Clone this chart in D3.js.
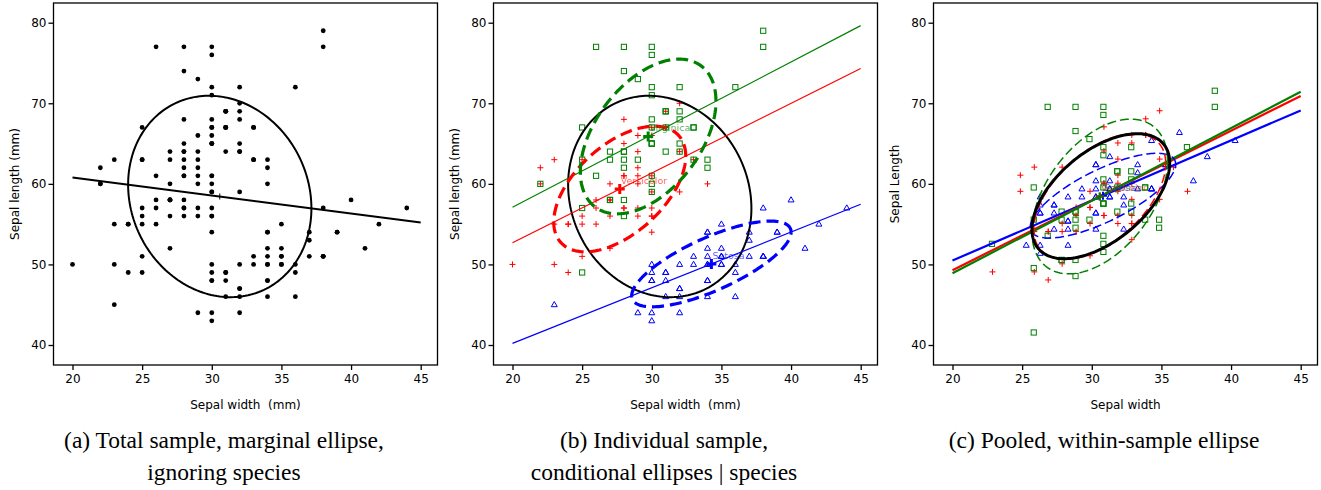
<!DOCTYPE html>
<html><head><meta charset="utf-8">
<script src="https://cdn.jsdelivr.net/npm/d3@7"></script>
<style>body{margin:0;background:#fff}svg{display:block}</style>
</head><body><svg id="chart" width="1321" height="490"></svg>
<script>
// ---- data (iris, mm) ----
const speciesNames = ["Setosa", "Versicolor", "Virginica"];
const speciesColors = ["#0000ff", "#ff0000", "#008000"];
const setosaWidth = [35,30,32,31,36,39,34,34,29,31,37,34,30,30,40,44,39,35,38,38,34,37,36,33,34,30,34,35,34,32,31,34,41,42,31,32,35,36,30,34,35,23,32,35,38,30,38,32,37,33];
const setosaLength = [51,49,47,46,50,54,46,50,44,49,54,48,48,43,58,57,54,51,57,51,54,51,46,51,48,50,50,52,52,47,48,54,52,55,49,50,55,49,44,51,50,45,44,50,51,48,51,46,53,50];
const versicolorWidth = [32,32,31,23,28,28,33,24,29,27,20,30,22,29,29,31,30,27,22,25,32,28,25,28,29,30,28,30,29,26,24,24,27,27,30,34,31,23,30,25,26,30,26,23,27,30,29,29,25,28];
const versicolorLength = [70,64,69,55,65,57,63,49,66,52,50,59,60,61,56,67,56,58,62,56,59,61,63,61,64,66,68,67,60,57,55,55,58,60,54,60,67,63,56,55,55,61,58,50,56,57,57,62,51,57];
const virginicaWidth = [33,27,30,29,30,30,25,29,25,36,32,27,30,25,28,32,30,38,26,22,32,28,28,27,33,32,28,30,28,30,28,38,28,28,26,30,34,31,30,31,31,31,27,32,33,30,25,30,34,30];
const virginicaLength = [63,58,71,63,65,76,49,73,67,72,65,64,68,57,58,64,65,77,77,60,69,56,77,63,67,72,62,61,64,72,74,79,64,63,61,77,63,64,60,69,67,69,58,68,67,67,63,65,62,59];
const xTicks = [20, 25, 30, 35, 40, 45];
const yTicks = [40, 50, 60, 70, 80];
const xLimits = [20, 45];
const yLimits = [40, 80];
const xTitles = ["Sepal width  (mm)", "Sepal width  (mm)", "Sepal width"];
const yTitles = ["Sepal length (mm)", "Sepal length (mm)", "Sepal Length"];
const captions = [
  ["(a) Total sample, marginal ellipse,", "ignoring species"],
  ["(b) Individual sample,", "conditional ellipses | species"],
  ["(c) Pooled, within-sample ellipse"]
];
const ellipseLevel = 0.68;

// ---- helpers ----
const groups = [
  {w: setosaWidth, l: setosaLength},
  {w: versicolorWidth, l: versicolorLength},
  {w: virginicaWidth, l: virginicaLength}
];
function stats(xs, ys) {
  const n = xs.length, mx = d3.mean(xs), my = d3.mean(ys);
  let sxx = 0, syy = 0, sxy = 0;
  for (let i = 0; i < n; i++) { const dx = xs[i]-mx, dy = ys[i]-my; sxx += dx*dx; syy += dy*dy; sxy += dx*dy; }
  return {mx, my, sxx: sxx/(n-1), syy: syy/(n-1), sxy: sxy/(n-1), n};
}
const cRad = Math.sqrt(-2 * Math.log(1 - ellipseLevel));
function ellipse(s) {
  const L11 = Math.sqrt(s.sxx), L21 = s.sxy / L11, L22 = Math.sqrt(s.syy - L21*L21);
  return d3.range(0, 201).map(i => {
    const t = 2*Math.PI*i/200, c = Math.cos(t), sn = Math.sin(t);
    return [s.mx + cRad*L11*c, s.my + cRad*(L21*c + L22*sn)];
  });
}
function regLine(s) {
  const b = s.sxy / s.sxx;
  const a = s.my - b * s.mx;
  return [[xLimits[0], a + b*xLimits[0]], [xLimits[1], a + b*xLimits[1]]];
}
const allW = [].concat(...groups.map(g => g.w));
const allL = [].concat(...groups.map(g => g.l));
const totalStats = stats(allW, allL);
const groupStats = groups.map(g => stats(g.w, g.l));

const svg = d3.select("#chart");
const panelOffsets = [0, 440, 880];
const frame = {left: 53.5, right: 437.5, top: 3, bottom: 365};

function makePanel(k) {
  const ox = panelOffsets[k];
  const g = svg.append("g").attr("transform", `translate(${ox},0)`);
  const x = d3.scaleLinear().domain(xLimits).range([72.5, 420.7]);
  const y = d3.scaleLinear().domain(yLimits).range([345, 22.7]);
  const clipId = "clip" + k;
  g.append("clipPath").attr("id", clipId).append("rect")
    .attr("x", frame.left).attr("y", frame.top)
    .attr("width", frame.right - frame.left).attr("height", frame.bottom - frame.top);
  const xa = g.append("g").attr("transform", `translate(0,${frame.bottom})`)
    .call(d3.axisBottom(x).tickValues(xTicks).tickSize(5).tickPadding(4));
  const ya = g.append("g").attr("transform", `translate(${frame.left},0)`)
    .call(d3.axisLeft(y).tickValues(yTicks).tickSize(5).tickPadding(2));
  [xa, ya].forEach(a => {
    a.select(".domain").remove();
    a.selectAll("text").attr("font-family", "DejaVu Sans").attr("font-size", 12).attr("fill", "#000");
    a.selectAll("line").attr("stroke", "#000").attr("stroke-width", 1.3);
  });
  xa.selectAll("text").attr("dy", "0.75em");
  g.append("text").attr("x", (frame.left + frame.right)/2).attr("y", 409)
    .attr("text-anchor", "middle").attr("font-family", "DejaVu Sans").attr("font-size", 12)
    .attr("xml:space", "preserve").style("white-space", "pre").text(xTitles[k]);
  g.append("text").attr("transform", `translate(19,${(frame.top+frame.bottom)/2}) rotate(-90)`)
    .attr("text-anchor", "middle").attr("font-family", "DejaVu Sans").attr("font-size", 12)
    .text(yTitles[k]);
  const plot = g.append("g").attr("clip-path", `url(#${clipId})`);
  g.append("rect").attr("x", frame.left).attr("y", frame.top)
    .attr("width", frame.right - frame.left).attr("height", frame.bottom - frame.top)
    .attr("fill", "none").attr("stroke", "#000").attr("stroke-width", 1.3);
  const capG = svg.append("g").attr("transform", `translate(${ox + 224},0)`);
  captions[k].forEach((t, i) => {
    capG.append("text").attr("x", 0).attr("y", 448 + i*32).attr("text-anchor", "middle")
      .attr("font-family", "Liberation Serif, Times New Roman, serif").attr("font-size", 23.5)
      .text(t);
  });
  return {g, plot, x, y};
}
const line = (x, y) => d3.line().x(d => x(d[0])).y(d => y(d[1]));

function drawMarker(sel, k, px, py) {
  const col = speciesColors[k];
  if (k === 0) {
    const h = 5.2, r = 3;
    sel.append("path").attr("d", `M${px},${py-h*0.62}L${px+r},${py+h*0.38}L${px-r},${py+h*0.38}Z`)
      .attr("fill", "none").attr("stroke", col).attr("stroke-width", 1);
  } else if (k === 1) {
    sel.append("path").attr("d", `M${px-3},${py}H${px+3}M${px},${py-3}V${py+3}`)
      .attr("stroke", col).attr("stroke-width", 1);
  } else {
    sel.append("rect").attr("x", px-2.6).attr("y", py-2.6).attr("width", 5.2).attr("height", 5.2)
      .attr("fill", "none").attr("stroke", col).attr("stroke-width", 1);
  }
}
function centerCross(sel, px, py, col, size, w) {
  sel.append("path").attr("d", `M${px-size},${py}H${px+size}M${px},${py-size}V${py+size}`)
    .attr("stroke", col).attr("stroke-width", w);
}

// ---- panel a ----
{
  const {plot, x, y} = makePanel(0);
  plot.selectAll("circle").data(d3.range(allW.length)).join("circle")
    .attr("cx", i => x(allW[i])).attr("cy", i => y(allL[i])).attr("r", 2.4).attr("fill", "#000");
  plot.append("path").attr("d", line(x, y)(regLine(totalStats))).attr("stroke", "#000").attr("stroke-width", 2).attr("fill", "none");
  plot.append("path").attr("d", line(x, y)(ellipse(totalStats))).attr("stroke", "#000").attr("stroke-width", 2).attr("fill", "none");
  centerCross(plot, x(totalStats.mx), y(totalStats.my), "#000", 3, 1);
}
// ---- panel b ----
{
  const {plot, x, y} = makePanel(1);
  groups.forEach((gr, k) => gr.w.forEach((w, i) => drawMarker(plot, k, x(w), y(gr.l[i]))));
  plot.append("path").attr("d", line(x, y)(ellipse(totalStats))).attr("stroke", "#000").attr("stroke-width", 2).attr("fill", "none");
  groupStats.forEach((s, k) => {
    plot.append("path").attr("d", line(x, y)(regLine(s))).attr("stroke", speciesColors[k]).attr("stroke-width", 1.2).attr("fill", "none");
  });
  groupStats.forEach((s, k) => {
    plot.append("path").attr("d", line(x, y)(ellipse(s))).attr("stroke", speciesColors[k]).attr("stroke-width", 3.2)
      .attr("stroke-dasharray", "12,6").attr("fill", "none");
    centerCross(plot, x(s.mx), y(s.my), speciesColors[k], 5, 3);
    plot.append("text").attr("x", x(s.mx) + 1).attr("y", y(s.my) - 5)
      .attr("font-family", "DejaVu Sans").attr("font-size", 9.5)
      .attr("fill", speciesColors[k]).attr("fill-opacity", 0.65).text(speciesNames[k]);
  });
}
// ---- panel c: species-centred data (points outside the axis limits are dropped before fitting) ----
{
  const {plot, x, y} = makePanel(2);
  const gx = totalStats.mx, gy = totalStats.my;
  const inLim = (xv, yv) => xv >= xLimits[0] && xv <= xLimits[1] && yv >= yLimits[0] && yv <= yLimits[1];
  const cStats = groups.map((gr, k) => {
    const s = groupStats[k];
    const cw = [], cl = [];
    gr.w.forEach((w, i) => {
      const xv = w - s.mx + gx, yv = gr.l[i] - s.my + gy;
      if (inLim(xv, yv)) { cw.push(xv); cl.push(yv); }
    });
    cw.forEach((xv, i) => drawMarker(plot, k, x(xv), y(cl[i])));
    return stats(cw, cl);
  });
  const pooled = {mx: d3.mean(cStats, s => s.mx), my: d3.mean(cStats, s => s.my),
    sxx: d3.mean(cStats, s => s.sxx), syy: d3.mean(cStats, s => s.syy), sxy: d3.mean(cStats, s => s.sxy)};
  cStats.forEach((s, k) => {
    plot.append("path").attr("d", line(x, y)(regLine(s))).attr("stroke", speciesColors[k]).attr("stroke-width", 2.2).attr("fill", "none");
  });
  cStats.forEach((s, k) => {
    plot.append("path").attr("d", line(x, y)(ellipse(s))).attr("stroke", speciesColors[k]).attr("stroke-width", 1.5)
      .attr("stroke-dasharray", "9,4").attr("fill", "none");
  });
  plot.append("path").attr("d", line(x, y)(ellipse(pooled))).attr("stroke", "#000").attr("stroke-width", 3).attr("fill", "none");
  cStats.forEach((s, k) => {
    centerCross(plot, x(s.mx), y(s.my), speciesColors[k], 4, 2);
    plot.append("text").attr("x", x(s.mx) + 1).attr("y", y(s.my) - 5)
      .attr("font-family", "DejaVu Sans").attr("font-size", 9.5)
      .attr("fill", speciesColors[k]).attr("fill-opacity", 0.5).text(speciesNames[k]);
  });
}
</script></body></html>
